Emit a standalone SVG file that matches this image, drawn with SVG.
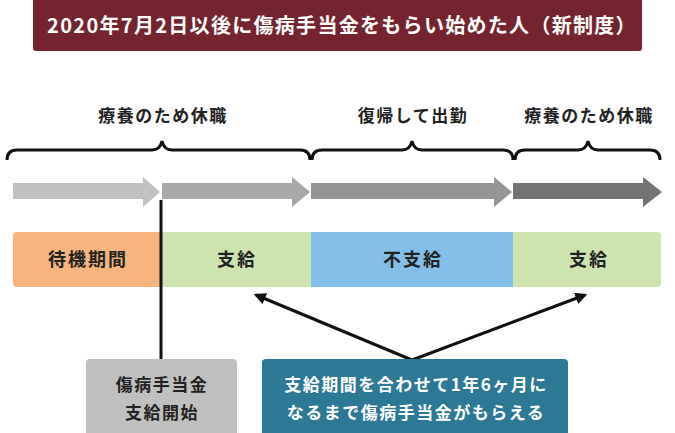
<svg xmlns="http://www.w3.org/2000/svg" width="675" height="433" viewBox="0 0 675 433">
<style>
.t{font-family:"Noto Sans CJK JP","Noto Sans",sans-serif;font-weight:bold;text-anchor:middle}
.w{fill:#ffffff}
.k{fill:#222222}
.br{fill:none;stroke:#111111;stroke-width:3}
.ln{fill:none;stroke:#111111;stroke-width:3}
</style>
<defs>
<marker id="ah" viewBox="0 0 10 10" refX="8" refY="5" markerWidth="4" markerHeight="4" orient="auto" markerUnits="strokeWidth">
<path d="M0,0 L10,5 L0,10 z" fill="#111111"/>
</marker>
</defs>
<g id="title">
<path d="M33,0 H642 V48 Q642,51 639,51 H36 Q33,51 33,48 Z" fill="#74242f"/>
<text class="t w" x="342" y="33" font-size="20" letter-spacing="1.3">2020年7月2日以後に傷病手当金をもらい始めた人（新制度）</text>
</g>
<g id="labels">
<text class="t k" x="163" y="122" font-size="17" letter-spacing="1.5">療養のため休職</text>
<text class="t k" x="413" y="122" font-size="17" letter-spacing="1.5">復帰して出勤</text>
<text class="t k" x="589" y="122" font-size="17" letter-spacing="1.5">療養のため休職</text>
</g>
<g id="braces">
<path class="br" d="M7,160 Q7,150 17,150 H152 Q160,150 162,141 Q164,150 172,150 H300 Q310,150 310,160"/>
<path class="br" d="M312,160 Q312,150 322,150 H402 Q410,150 412,141 Q414,150 422,150 H503 Q513,150 513,160"/>
<path class="br" d="M515,160 Q515,150 525,150 H578 Q586,150 588,141 Q590,150 598,150 H650 Q660,150 660,160"/>
</g>
<g id="timeline">
<path d="M13,183 H143 V177 L160,192 L143,207 V199 H13 Z" fill="#c1c1c1"/>
<path d="M162,183 H292 V177 L310,192 L292,207 V199 H162 Z" fill="#a9a9a9"/>
<path d="M311,183 H494 V177 L512,192 L494,207 V199 H311 Z" fill="#959595"/>
<path d="M513,183 H643 V177 L662,192 L643,207 V199 H513 Z" fill="#737373"/>
</g>
<g id="bar-waiting">
<path d="M17,232 H161 V287 H17 Q13,287 13,283 V236 Q13,232 17,232 Z" fill="#f7b47f"/>
<text class="t k" x="88" y="266" font-size="18" letter-spacing="2">待機期間</text>
</g>
<g id="bar-pay1">
<rect x="161" y="232" width="150" height="55" fill="#cde4b1"/>
<text class="t k" x="237" y="266" font-size="18" letter-spacing="2">支給</text>
</g>
<g id="bar-nopay">
<rect x="311" y="232" width="202" height="55" fill="#83bfe9"/>
<text class="t k" x="413" y="266" font-size="18" letter-spacing="2">不支給</text>
</g>
<g id="bar-pay2">
<path d="M513,232 H657 Q661,232 661,236 V283 Q661,287 657,287 H513 Z" fill="#cde4b1"/>
<text class="t k" x="589" y="266" font-size="18" letter-spacing="2">支給</text>
</g>
<g id="connectors">
<line class="ln" x1="161" y1="200" x2="161" y2="360"/>
<line class="ln" x1="412" y1="360" x2="256" y2="295" marker-end="url(#ah)"/>
<line class="ln" x1="412" y1="360" x2="585" y2="295" marker-end="url(#ah)"/>
</g>
<g id="box-start">
<path d="M86,363 Q86,359 90,359 H233 Q237,359 237,363 V433 H86 Z" fill="#c0c0c0"/>
<text class="t k" x="162" y="391" font-size="17" letter-spacing="1.5">傷病手当金</text>
<text class="t k" x="162" y="419" font-size="17" letter-spacing="1.5">支給開始</text>
</g>
<g id="box-period">
<path d="M262,363 Q262,359 266,359 H564 Q568,359 568,363 V433 H262 Z" fill="#2d7895"/>
<text class="t w" x="416" y="391" font-size="17" letter-spacing="1.5">支給期間を合わせて1年6ヶ月に</text>
<text class="t w" x="416" y="419" font-size="17" letter-spacing="1.5">なるまで傷病手当金がもらえる</text>
</g>
</svg>
